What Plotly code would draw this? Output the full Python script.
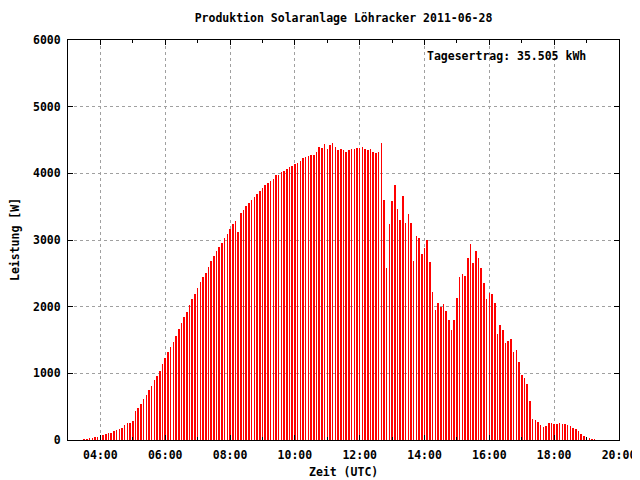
import pandas as pd
import plotly.graph_objects as go

start_time = "2011-06-28 03:30"
step = "5min"

power_w = [
    15, 15, 20, 35, 45, 45, 60, 75, 90, 105,
    105, 135, 150, 165, 180, 225, 255, 255, 285, 435,
    480, 540, 615, 675, 750, 810, 900, 960, 1035, 1140,
    1230, 1320, 1395, 1470, 1560, 1665, 1755, 1845, 1920, 2025,
    2115, 2190, 2280, 2370, 2445, 2505, 2595, 2685, 2760, 2835,
    2895, 2955, 3030, 3090, 3165, 3240, 3285, 3120, 3405, 3450,
    3510, 3555, 3600, 3645, 3690, 3735, 3780, 3825, 3855, 3885,
    3915, 3975, 3975, 4020, 4035, 4065, 4095, 4110, 4140, 4155,
    4185, 4230, 4245, 4260, 4275, 4275, 4320, 4395, 4380, 4440,
    4365, 4425, 4455, 4395, 4350, 4365, 4350, 4320, 4350, 4365,
    4365, 4380, 4380, 4395, 4365, 4350, 4365, 4320, 4305, 4320,
    4455, 3600, 2580, 3240, 3585, 3825, 3465, 3300, 3660, 3255,
    3390, 3255, 2685, 3060, 3030, 2790, 2880, 3000, 2670, 2220,
    1950, 2055, 1995, 2040, 1935, 1800, 1650, 1800, 2130, 2445,
    2490, 2460, 2730, 2940, 2655, 2835, 2730, 2580, 2355, 2115,
    2205, 2190, 2055, 1590, 1725, 1650, 1455, 1485, 1515, 1320,
    1350, 1170, 975, 930, 840, 585, 315, 300, 270, 225,
    195, 210, 255, 255, 240, 240, 255, 240, 240, 225,
    210, 180, 165, 135, 90, 60, 30, 30, 15, 15,
]

times = pd.date_range(start_time, periods=len(power_w), freq=step)

title_text = "Produktion Solaranlage Löhracker 2011-06-28"
x_title = "Zeit (UTC)"
y_title = "Leistung [W]"
yield_text = "Tagesertrag: 35.505 kWh"

FONT = dict(family="DejaVu Sans Mono", size=11.5, color="black", weight="bold")

# page body has an 8px default margin, so the figure is 632x472 placed at (8, 8)
OFF = 8
W, H = 640 - OFF, 480 - OFF
L, R, T, B = 68 - OFF, W - (619 - OFF), 40 - OFF, H - (440 - OFF)
PW, PH = W - L - R, H - T - B


def px(sx):
    return (sx - OFF - L) / PW


def py(sy):
    return (H - B - (sy - OFF)) / PH


fig = go.Figure()
fig.add_trace(go.Bar(
    x=times, y=power_w,
    width=60000,
    marker=dict(color="#ff0000", line=dict(width=0)),
    showlegend=False,
))

fig.update_layout(
    width=W, height=H,
    margin=dict(l=L, r=R, t=T, b=B, autoexpand=False),
    paper_bgcolor="white", plot_bgcolor="white",
    font=FONT,
    bargap=0,
    title=dict(text=title_text, x=(L + PW / 2) / W, xanchor="center",
               y=1 - (18 - OFF) / H, yanchor="middle", font=FONT),
    annotations=[
        dict(text=yield_text, xref="paper", yref="paper",
             x=px(588), y=py(56), xanchor="right", yanchor="middle",
             showarrow=False, font=FONT),
        dict(text=x_title, xref="paper", yref="paper",
             x=0.5, y=py(472), xanchor="center", yanchor="middle",
             showarrow=False, font=FONT),
        dict(text=y_title, xref="paper", yref="paper",
             x=px(15), y=0.5, xanchor="center", yanchor="middle",
             textangle=-90, showarrow=False, font=FONT),
    ],
)

fig.update_xaxes(
    type="date",
    automargin=False,
    range=["2011-06-28 03:00", "2011-06-28 20:00"],
    dtick=2 * 3600000,
    tick0="2011-06-28 00:00",
    tickformat="%H:%M",
    ticks="inside", ticklen=5, tickcolor="black",
    ticklabelstandoff=4,
    showline=True, linecolor="black", linewidth=1, mirror="allticks",
    showgrid=True, gridcolor="#a0a0a0", gridwidth=1, griddash="3px,3px",
    minor=dict(dtick=3600000, ticks="inside", ticklen=3, tickcolor="black", showgrid=False),
    tickfont=FONT,
    zeroline=False,
)
fig.update_yaxes(
    automargin=False,
    range=[0, 6000],
    dtick=1000,
    ticks="inside", ticklen=5, tickcolor="black",
    ticklabelstandoff=4,
    showline=True, linecolor="black", linewidth=1, mirror="allticks",
    showgrid=True, gridcolor="#a0a0a0", gridwidth=1, griddash="3px,3px",
    tickfont=FONT,
    zeroline=False,
)

fig.write_html("out.html")
